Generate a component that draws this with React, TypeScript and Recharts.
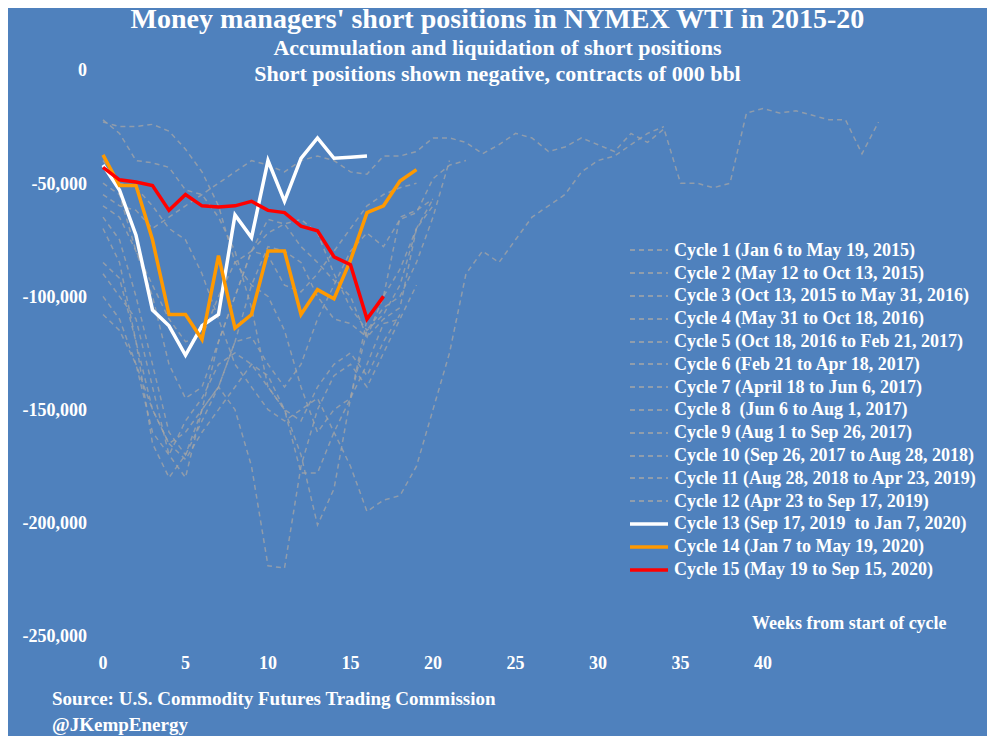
import React from 'react'
import { LineChart, Line, XAxis, YAxis } from 'recharts'

const weeks = Array.from({ length: 48 }, (_, i) => i)

// thousands of contracts, shown negative
const cycle1 = [-23, -25, -25, -24, -27, -35, -45, -60, -85, -95, -100, -115, -140, -160, -150, -145, -130, -112, -110, -95]
const cycle2 = [-22, -28, -40, -41, -43, -53, -55, -65, -80, -105, -140, -150, -178, -178, -160, -145, -110, -100, -88, -70]
const cycle3 = [-40, -50, -52, -60, -70, -75, -90, -110, -130, -140, -150, -155, -150, -145, -160, -175, -195, -190, -188, -175, -150, -125, -90, -80, -85, -75, -65, -60, -55, -45, -40, -38, -33, -28, -25]
const cycle4 = [-60, -65, -80, -100, -130, -145, -140, -120, -100, -80, -72, -68, -66, -72, -90, -105, -115, -108, -95, -70, -57]
const cycle5 = [-85, -92, -120, -150, -165, -160, -150, -140, -150, -175, -219, -220, -175, -150, -135, -130, -140, -125, -110]
const cycle6 = [-90, -100, -110, -140, -170, -155, -145, -130, -125, -130, -140, -150, -170, -201, -185, -145, -115, -105, -100, -85, -65, -40]
const cycle7 = [-108, -115, -130, -160, -170, -180, -150, -120, -100, -80, -66, -68, -78, -85, -93, -100, -118, -110, -105, -70, -60]
const cycle8 = [-100, -110, -130, -150, -165, -172, -160, -150, -140, -130, -135, -150, -155, -140, -130, -125, -135, -120, -108]
const cycle9 = [-50, -55, -80, -95, -110, -120, -118, -100, -85, -80, -82, -95, -98, -90, -80, -70, -60, -55, -52, -50]
const cycle10 = [-55, -60, -62, -70, -65, -60, -55, -50, -45, -40, -42, -45, -40, -38, -40, -45, -46, -38, -38, -36, -30, -30, -32, -37, -33, -28, -30, -36, -34, -30, -33, -36, -28, -32, -26, -50, -50, -52, -50, -19, -17, -19, -18, -20, -22, -22, -37, -23]
const cycle11 = [-70, -85, -120, -165, -180, -170, -155, -140, -120, -118, -130, -140, -130, -110, -95, -80, -72, -78, -66, -63, -48, -42, -40]
const cycle12 = [-65, -75, -100, -130, -160, -170, -150, -140, -120, -95, -78, -80, -85, -100, -110, -112, -118, -100, -65, -62, -57]
const cycle13 = [-42, -53, -73, -106, -113, -126, -113, -108, -64, -74, -40, -58, -39, -30, -39, -38.5, -38]
const cycle14 = [-37.5, -51, -51, -75, -108, -108, -119, -82, -114, -108, -80, -80, -108, -97, -101, -84, -63, -60, -49, -44]
const cycle15 = [-43, -48.5, -49.5, -51, -62, -55, -60, -60.5, -60, -58, -62, -63, -69, -71, -82.5, -86, -110, -100]

const greyCycles = [cycle1, cycle2, cycle3, cycle4, cycle5, cycle6, cycle7, cycle8, cycle9, cycle10, cycle11, cycle12]
const mainCycles = [cycle13, cycle14, cycle15]
const mainColors = ['#ffffff', '#ff9900', '#ff0000']

const legendLabels = [
  'Cycle 1 (Jan 6 to May 19, 2015)',
  'Cycle 2 (May 12 to Oct 13, 2015)',
  'Cycle 3 (Oct 13, 2015 to May 31, 2016)',
  'Cycle 4 (May 31 to Oct 18, 2016)',
  'Cycle 5 (Oct 18, 2016 to Feb 21, 2017)',
  'Cycle 6 (Feb 21 to Apr 18, 2017)',
  'Cycle 7 (April 18 to Jun 6, 2017)',
  'Cycle 8  (Jun 6 to Aug 1, 2017)',
  'Cycle 9 (Aug 1 to Sep 26, 2017)',
  'Cycle 10 (Sep 26, 2017 to Aug 28, 2018)',
  'Cycle 11 (Aug 28, 2018 to Apr 23, 2019)',
  'Cycle 12 (Apr 23 to Sep 17, 2019)',
  'Cycle 13 (Sep 17, 2019  to Jan 7, 2020)',
  'Cycle 14 (Jan 7 to May 19, 2020)',
  'Cycle 15 (May 19 to Sep 15, 2020)',
]

const allCycles = [...greyCycles, ...mainCycles]
const data = weeks.map((w) => {
  const row: any = { week: w }
  allCycles.forEach((c, i) => {
    if (w < c.length) row[`c${i + 1}`] = c[w] * 1000
  })
  return row
})

const font = '"Liberation Serif", "DejaVu Serif", serif'

export default function App() {
  return (
    <div style={{ position: 'relative', width: 995, height: 744, background: '#4f81bd', margin: -8, fontFamily: font, color: '#fff', fontWeight: 'bold', overflow: 'hidden' }}>
      <div style={{ position: 'absolute', top: 3, width: 995, textAlign: 'center' }}>
        <div style={{ fontSize: 28 }}>Money managers' short positions in  NYMEX WTI in 2015-20</div>
        <div style={{ fontSize: 22, marginTop: 0 }}>Accumulation and liquidation of short positions</div>
        <div style={{ fontSize: 22, marginTop: 0 }}>Short positions shown negative, contracts of 000 bbl</div>
      </div>
      <div style={{ position: 'absolute', left: 0, top: 0 }}>
        <LineChart width={995} height={744} data={data} margin={{ top: 70, right: 100, bottom: 78, left: 13 }}>
          <XAxis dataKey="week" type="number" domain={[0, 48]} ticks={[0, 5, 10, 15, 20, 25, 30, 35, 40]} axisLine={false} tickLine={false}
            tick={{ fill: '#fff', fontSize: 18, fontFamily: font, fontWeight: 'bold' }} dy={12} />
          <YAxis type="number" domain={[-250000, 0]} ticks={[-250000, -200000, -150000, -100000, -50000, 0]} axisLine={false} tickLine={false} width={90}
            tickFormatter={(v) => v.toLocaleString('en-US')} tick={{ fill: '#fff', fontSize: 18, fontFamily: font, fontWeight: 'bold' }} dx={-8} />
          {greyCycles.map((_, i) => (
            <Line key={i} dataKey={`c${i + 1}`} stroke="#a6a6a6" strokeOpacity={0.75} strokeWidth={1.5} strokeDasharray="5 4" dot={false} isAnimationActive={false} connectNulls={false} />
          ))}
          {mainCycles.map((_, i) => (
            <Line key={i} dataKey={`c${i + 13}`} stroke={mainColors[i]} strokeWidth={3.5} dot={false} isAnimationActive={false} />
          ))}
        </LineChart>
      </div>
      <div style={{ position: 'absolute', left: 630, top: 239, fontSize: 18 }}>
        {legendLabels.map((l, i) => (
          <div key={l} style={{ height: 22.8, display: 'flex', alignItems: 'center', whiteSpace: 'pre' }}>
            {i < 12
              ? <svg width={40} height={6}><line x1={0} y1={3} x2={38} y2={3} stroke="#a6a6a6" strokeWidth={1.5} strokeDasharray="5 4" /></svg>
              : <svg width={40} height={6}><line x1={0} y1={3} x2={38} y2={3} stroke={mainColors[i - 12]} strokeWidth={3.5} /></svg>}
            <span style={{ marginLeft: 4 }}>{l}</span>
          </div>
        ))}
      </div>
      <div style={{ position: 'absolute', left: 752, top: 613, fontSize: 18 }}>Weeks from start of cycle</div>
      <div style={{ position: 'absolute', left: 52, top: 686, fontSize: 19, lineHeight: '26px' }}>
        <div>Source: U.S. Commodity Futures Trading Commission</div>
        <div>@JKempEnergy</div>
      </div>
    </div>
  )
}
